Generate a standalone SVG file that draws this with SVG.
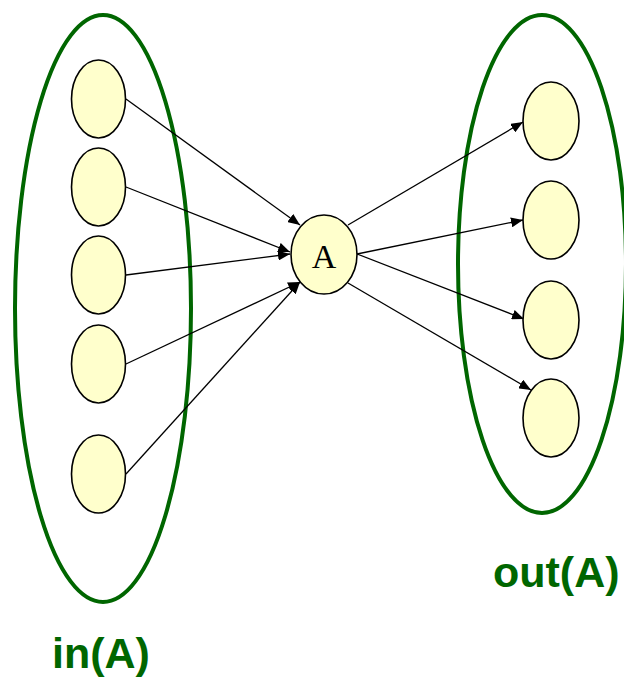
<svg xmlns="http://www.w3.org/2000/svg" width="624" height="679" viewBox="0 0 624 679">
<style>
.set{fill:none;stroke:#006600;stroke-width:4}
.node{fill:#ffffcc;stroke:#000;stroke-width:1.6}
.edge{stroke:#000;stroke-width:1.3;fill:none;marker-end:url(#ah)}
.lbl{font-family:"Liberation Sans",Arial,sans-serif;font-weight:bold;font-size:43px;fill:#006600}
.ntxt{font-family:"Liberation Serif","Times New Roman",serif;font-size:34px;fill:#000}
</style>
<defs>
<marker id="ah" viewBox="0 0 12 10" refX="12" refY="5" markerWidth="12" markerHeight="10" markerUnits="userSpaceOnUse" orient="auto">
<path d="M0,0 L12,5 L0,10 Z" fill="#000"/>
</marker>
</defs>
<g id="in-set"><ellipse class="set" cx="103" cy="308.5" rx="88" ry="293.5"/><text class="lbl" x="52" y="668">in(A)</text></g>
<g id="out-set"><ellipse class="set" cx="542" cy="264" rx="84" ry="249"/><text class="lbl" x="493" y="587">out(A)</text></g>
<g id="connectors">
<line class="edge" x1="126" y1="99" x2="300" y2="225"/>
<line class="edge" x1="126" y1="187" x2="290" y2="252"/>
<line class="edge" x1="126" y1="275" x2="290" y2="254"/>
<line class="edge" x1="126" y1="364" x2="300" y2="282"/>
<line class="edge" x1="126" y1="474" x2="300" y2="282"/>
<line class="edge" x1="348" y1="225" x2="523" y2="122"/>
<line class="edge" x1="357" y1="254" x2="523" y2="220"/>
<line class="edge" x1="357" y1="254" x2="524" y2="319"/>
<line class="edge" x1="348" y1="283" x2="531" y2="390"/>
</g>
<g id="in1"><ellipse class="node" cx="98.5" cy="99" rx="27" ry="39"/></g>
<g id="in2"><ellipse class="node" cx="98.5" cy="187" rx="27" ry="39"/></g>
<g id="in3"><ellipse class="node" cx="98.5" cy="275" rx="27" ry="39"/></g>
<g id="in4"><ellipse class="node" cx="98.5" cy="364" rx="27" ry="39"/></g>
<g id="in5"><ellipse class="node" cx="98.5" cy="474" rx="27" ry="39"/></g>
<g id="A"><ellipse class="node" cx="324" cy="254.5" rx="33" ry="39.5"/><text class="ntxt" x="324" y="268" text-anchor="middle">A</text></g>
<g id="out1"><ellipse class="node" cx="551" cy="121" rx="28" ry="39"/></g>
<g id="out2"><ellipse class="node" cx="551" cy="220" rx="28" ry="39"/></g>
<g id="out3"><ellipse class="node" cx="551" cy="320" rx="28" ry="39"/></g>
<g id="out4"><ellipse class="node" cx="551" cy="418" rx="28" ry="39"/></g>
</svg>
